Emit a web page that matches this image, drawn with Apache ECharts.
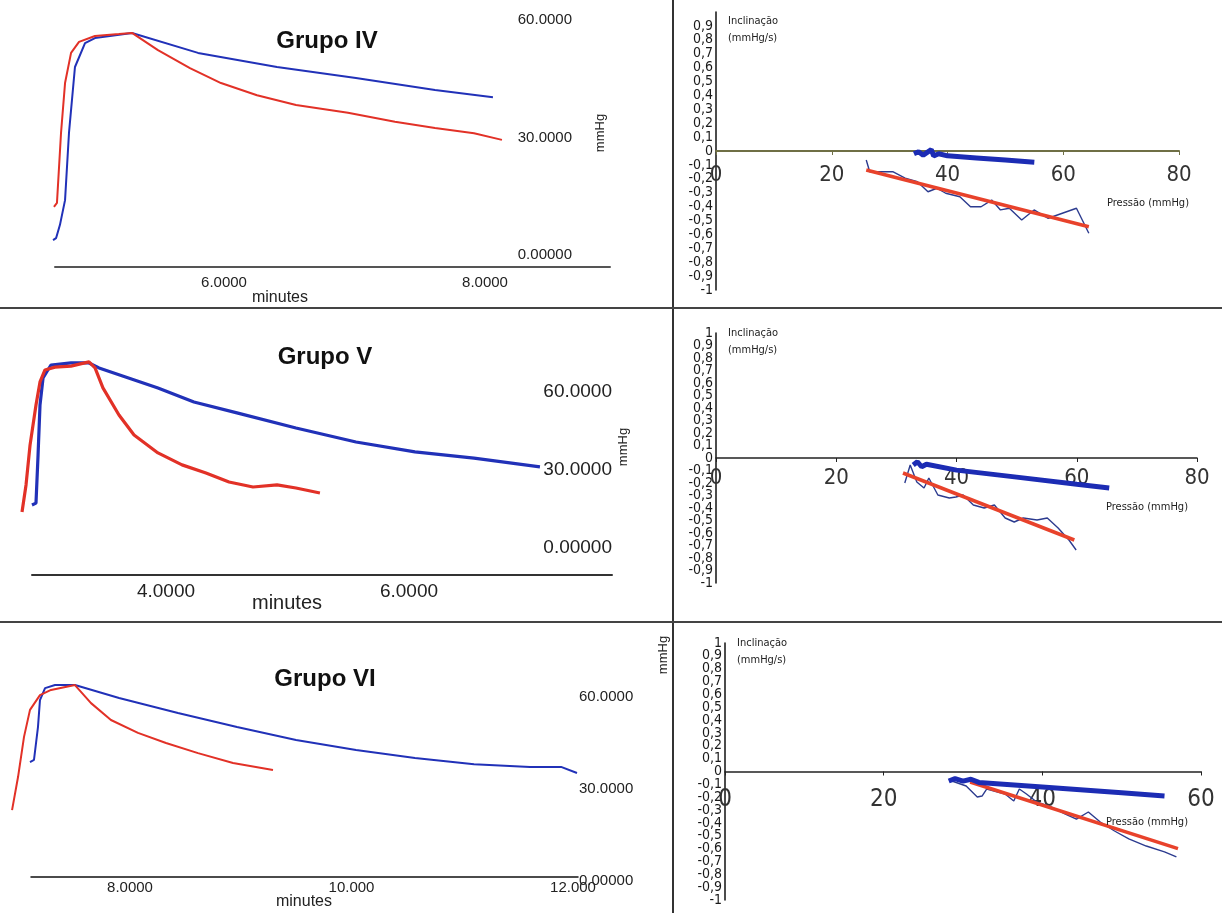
<!DOCTYPE html>
<html>
<head>
<meta charset="utf-8">
<title>Grupos IV, V e VI</title>
<script src="https://cdn.jsdelivr.net/npm/echarts@6/dist/echarts.min.js"></script>
<style>
  html, body { margin: 0; padding: 0; background: #fff; }
  #chart { width: 1222px; height: 913px; }
</style>
</head>
<body>
<div id="chart"></div>
<script>
// curvas de pressao: [minutos, mmHg]
var grupo4Azul = [[4.690,3.8],[4.713,4.3],[4.743,7.7],[4.782,14.0],[4.812,31.1],[4.858,48.0],[4.935,54.1],[5.011,55.4],[5.126,55.9],[5.295,56.7],[5.801,51.6],[6.406,48.0],[7.011,45.2],[7.617,42.1],[8.061,40.3]];
var grupo4Verm = [[4.697,12.3],[4.720,13.3],[4.751,31.1],[4.782,43.9],[4.828,51.6],[4.889,54.4],[5.011,55.9],[5.195,56.4],[5.295,56.7],[5.494,52.3],[5.739,47.7],[5.977,43.9],[6.253,40.8],[6.552,38.3],[6.950,36.3],[7.310,34.0],[7.617,32.4],[7.916,31.1],[8.130,29.4]];
var grupo5Azul = [[2.897,16.3],[2.930,17.0],[2.947,35.5],[2.963,54.7],[2.988,65.1],[3.053,70.1],[3.218,70.9],[3.366,70.9],[3.449,69.0],[3.934,61.3],[4.230,55.9],[4.584,51.7],[5.070,45.9],[5.564,40.5],[6.049,36.7],[6.535,34.3],[7.078,30.9]];
var grupo5Verm = [[2.815,13.6],[2.848,24.0],[2.881,39.3],[2.930,54.7],[2.963,63.6],[3.004,68.2],[3.086,69.3],[3.218,69.7],[3.366,71.3],[3.416,69.0],[3.481,61.3],[3.613,50.9],[3.737,43.2],[3.934,36.3],[4.132,31.7],[4.329,28.6],[4.519,25.1],[4.716,23.2],[4.914,24.0],[5.070,22.8],[5.267,20.9]];
var grupo6Azul = [[7.097,38.8],[7.133,39.5],[7.169,50.2],[7.187,59.0],[7.233,62.9],[7.323,63.9],[7.503,63.9],[7.901,59.7],[8.433,54.8],[8.966,50.2],[9.499,46.0],[10.041,42.7],[10.573,40.1],[11.106,38.1],[11.612,37.2],[11.892,37.2],[12.036,35.2]];
var grupo6Verm = [[6.935,23.1],[6.989,33.9],[7.043,47.0],[7.097,55.8],[7.187,60.6],[7.287,62.3],[7.503,63.9],[7.648,58.0],[7.828,52.5],[8.072,48.3],[8.325,45.0],[8.614,41.7],[8.930,38.5],[9.291,36.2]];

// inclinacao x pressao: [mmHg, mmHg/s]
var incl4Bruta = [[25.96,-0.065],[26.56,-0.149],[28.70,-0.149],[30.54,-0.149],[32.68,-0.196],[34.80,-0.221],[36.63,-0.293],[38.17,-0.268],[39.69,-0.304],[42.14,-0.329],[43.97,-0.401],[45.80,-0.401],[47.63,-0.353],[49.15,-0.424],[50.69,-0.412],[52.82,-0.496],[54.96,-0.424],[57.41,-0.484],[59.84,-0.448],[62.28,-0.412],[64.42,-0.592]];
var incl4Ajuste = [[25.96,-0.137],[64.42,-0.545]];
var incl4Azul = [[34.2,-0.02],[35.0,-0.005],[35.8,-0.03],[36.5,-0.01],[37.2,0.01],[37.6,-0.035],[38.5,-0.02],[40,-0.035],[45,-0.05],[50,-0.065],[55.0,-0.081]];
var incl5Bruta = [[31.4,-0.20],[32.3,-0.056],[33.4,-0.192],[34.6,-0.24],[35.4,-0.16],[36.9,-0.296],[38.8,-0.32],[39.9,-0.312],[41.1,-0.296],[42.8,-0.376],[44.6,-0.40],[46.3,-0.376],[48.1,-0.48],[49.6,-0.512],[51.1,-0.48],[53.4,-0.496],[55.1,-0.48],[56.9,-0.56],[58.7,-0.656],[59.9,-0.736]];
var incl5Ajuste = [[31.1,-0.12],[59.6,-0.656]];
var incl5Azul = [[32.8,-0.056],[33.5,-0.03],[34.2,-0.07],[35,-0.05],[40,-0.097],[50,-0.153],[60,-0.21],[65.4,-0.24]];
var incl6Bruta = [[28.6,-0.074],[30.4,-0.113],[31.8,-0.198],[32.4,-0.191],[33.0,-0.136],[35.3,-0.175],[36.4,-0.230],[37.1,-0.136],[38.0,-0.175],[39.3,-0.237],[41.1,-0.276],[42.9,-0.331],[44.3,-0.370],[45.8,-0.315],[47.3,-0.393],[49.1,-0.463],[50.9,-0.525],[53.1,-0.580],[55.4,-0.626],[56.9,-0.665]];
var incl6Ajuste = [[30.9,-0.082],[57.1,-0.60]];
var incl6Azul = [[28.2,-0.074],[29,-0.055],[30,-0.075],[31,-0.06],[32,-0.085],[40,-0.12],[50,-0.165],[55.4,-0.19]];

// rotulos dos eixos
var minutos4 = [6, 8];
var minutos5 = [4, 6];
var minutos6 = [8, 10, 12];
var pressaoTicks = [0, 30, 60];
var pressaoX80 = [0, 20, 40, 60, 80];
var pressaoX60 = [0, 20, 40, 60];
var inclTicks = [-1,-0.9,-0.8,-0.7,-0.6,-0.5,-0.4,-0.3,-0.2,-0.1,0,0.1,0.2,0.3,0.4,0.5,0.6,0.7,0.8,0.9,1];
var inclTicksSem1 = inclTicks.slice(0, 20);

var FONT = "'Liberation Sans', Arial, sans-serif";
var NARROW = "'Liberation Sans Narrow', 'DejaVu Sans Condensed', 'Liberation Sans', sans-serif";
var AZUL = '#2131b8', VERM = '#e23127';

var myChart = echarts.init(document.getElementById('chart'), null, { renderer: 'canvas' });

function fmtIncl(v) {
    if (Math.abs(v) < 1e-9) return '0';
    if (Math.abs(Math.abs(v) - 1) < 1e-9) return v > 0 ? '1' : '-1';
    return v.toFixed(1).replace('.', ',');
}
// decimos pares / impares (dois eixos sobrepostos para que nenhum rotulo seja escondido)
function pares(t) { return t.filter(function (v) { return Math.round(v * 10) % 2 === 0; }); }
function impares(t) { return t.filter(function (v) { return Math.round(v * 10) % 2 !== 0; }); }

// paineis da esquerda (pressao x tempo)
// eixo: [axLeft, axRight] em px com [axMin, axMax]; dados comecam em dataLeft/dataMin (mesma escala)
var esquerda = [
    { axLeft: 55, axRight: 610, axMin: 4.705, axMax: 8.958, dataLeft: 52, dataMin: 4.682,
      top: 20, height: 235, ymax: 60, ticks: minutos4, offset: 12,
      lineColor: '#555', lineW: 2, xfs: 15, xm: 8, yfs: 15, yinside: true, ym: 38, lw: 2, azul: grupo4Azul, verm: grupo4Verm },
    { axLeft: 32, axRight: 612, axMin: 2.897, axMax: 7.671, dataLeft: 21, dataMin: 2.8066,
      top: 360.1, height: 187.2, ymax: 72, ticks: minutos5, offset: 27.7,
      lineColor: '#333', lineW: 2, xfs: 19, xm: 7, yfs: 19, yinside: true, ym: 0, lw: 3.2, azul: grupo5Azul, verm: grupo5Verm },
    { axLeft: 31, axRight: 578, axMin: 7.106, axMax: 12.045, dataLeft: 11, dataMin: 6.9255,
      top: 678.6, height: 202.4, ymax: 66, ticks: minutos6, offset: -4,
      lineColor: '#111', lineW: 1.5, xfs: 15, xm: 3, yfs: 15, yinside: false, ym: 1, lw: 2, azul: grupo6Azul, verm: grupo6Verm }
];
// paineis da direita (inclinacao x pressao)
var direita = [
    { left: 716, top: 12, width: 463, height: 278, xmax: 80, xt: pressaoX80, yt: inclTicksSem1, xColor: '#6f6f45', xW: 2, xfs: 22, xm: 13,
      bruta: incl4Bruta, ajuste: incl4Ajuste, azul: incl4Azul },
    { left: 716, top: 333, width: 481, height: 250, xmax: 80, xt: pressaoX80, yt: inclTicks, xColor: '#222', xW: 1.5, xfs: 22, xm: 9,
      bruta: incl5Bruta, ajuste: incl5Ajuste, azul: incl5Azul },
    { left: 725, top: 643, width: 476, height: 257, xmax: 60, xt: pressaoX60, yt: inclTicks, xColor: '#222', xW: 1.5, xfs: 24, xm: 16,
      bruta: incl6Bruta, ajuste: incl6Ajuste, azul: incl6Azul }
];

var grid = [], xAxis = [], yAxis = [], series = [];
var hidden = { axisLine: { show: false }, axisTick: { show: false }, splitLine: { show: false }, axisLabel: { show: false } };

esquerda.forEach(function (p) {
    // grade do eixo (so a linha de base e os rotulos de minutos)
    var gi = grid.length;
    grid.push({ left: p.axLeft, top: p.top, width: p.axRight - p.axLeft, height: p.height, containLabel: false, outerBoundsMode: 'none' });
    xAxis.push({
        type: 'value', gridIndex: gi, min: p.axMin, max: p.axMax, offset: p.offset,
        axisLine: { show: true, onZero: false, lineStyle: { color: p.lineColor, width: p.lineW } },
        axisTick: { show: false },
        splitLine: { show: false },
        axisLabel: { customValues: p.ticks, margin: p.xm, color: '#222', fontSize: p.xfs, fontFamily: FONT,
            formatter: function (v) { return Number(v).toPrecision(5); } }
    });
    yAxis.push(Object.assign({ type: 'value', gridIndex: gi, min: 0, max: p.ymax }, hidden));

    // grade dos dados (comeca um pouco antes da linha de base)
    var gd = grid.length;
    var xi = xAxis.length, yi = yAxis.length;
    grid.push({ left: p.dataLeft, top: p.top, width: p.axRight - p.dataLeft, height: p.height, containLabel: false, outerBoundsMode: 'none' });
    xAxis.push(Object.assign({ type: 'value', gridIndex: gd, min: p.dataMin, max: p.axMax }, hidden));
    yAxis.push({
        type: 'value', gridIndex: gd, position: 'right', min: 0, max: p.ymax,
        axisLine: { show: false }, axisTick: { show: false }, splitLine: { show: false },
        axisLabel: { customValues: pressaoTicks, inside: p.yinside, margin: p.ym, color: '#222', fontSize: p.yfs, fontFamily: FONT,
            showMinLabel: true, showMaxLabel: true,
            formatter: function (v) { return Number(v).toPrecision(6); } }
    });
    series.push({ type: 'line', xAxisIndex: xi, yAxisIndex: yi, data: p.azul, showSymbol: false,
        lineStyle: { color: AZUL, width: p.lw }, z: 2 });
    series.push({ type: 'line', xAxisIndex: xi, yAxisIndex: yi, data: p.verm, showSymbol: false,
        lineStyle: { color: VERM, width: p.lw }, z: 3 });
});

direita.forEach(function (p) {
    var gi = grid.length, xi = xAxis.length, yi = yAxis.length;
    grid.push({ left: p.left, top: p.top, width: p.width, height: p.height, containLabel: false, outerBoundsMode: 'none' });
    xAxis.push({
        type: 'value', gridIndex: gi, min: 0, max: p.xmax, offset: -p.height / 2,
        axisLine: { show: true, onZero: false, lineStyle: { color: p.xColor, width: p.xW } },
        axisTick: { show: true, customValues: p.xt, length: 4, lineStyle: { color: p.xColor } },
        splitLine: { show: false },
        axisLabel: { customValues: p.xt, margin: p.xm, color: '#333', fontSize: p.xfs, fontFamily: NARROW,
            showMinLabel: true, showMaxLabel: true }
    });
    [pares(p.yt), impares(p.yt)].forEach(function (vals, k) {
        yAxis.push({
            type: 'value', gridIndex: gi, position: 'left', offset: 0, min: -1, max: 1,
            axisLine: { show: k === 0, onZero: false, lineStyle: { color: '#111', width: 1.5 } },
            axisTick: { show: false }, splitLine: { show: false },
            axisLabel: { customValues: vals, margin: 3, color: '#1a1a1a', fontSize: 14, fontFamily: NARROW,
                showMinLabel: true, showMaxLabel: true, formatter: fmtIncl }
        });
    });
    series.push({ type: 'line', xAxisIndex: xi, yAxisIndex: yi, data: p.bruta, showSymbol: false,
        lineStyle: { color: '#2c3b8f', width: 1.4 }, z: 2 });
    series.push({ type: 'line', xAxisIndex: xi, yAxisIndex: yi, data: p.ajuste, showSymbol: false,
        lineStyle: { color: '#e8422b', width: 3.5 }, z: 3 });
    series.push({ type: 'line', xAxisIndex: xi, yAxisIndex: yi, data: p.azul, showSymbol: false,
        lineStyle: { color: '#1c2cb4', width: 5 }, z: 4 });
});

function texto(txt, x, y, font, opts) {
    opts = opts || {};
    return {
        type: 'text', x: x, y: y, rotation: opts.rot || 0, z: 10,
        style: { text: txt, font: font, fill: opts.fill || '#222', align: opts.align || 'left', verticalAlign: 'middle' }
    };
}

var graphic = [
    // divisorias
    { type: 'line', shape: { x1: 673, y1: 0, x2: 673, y2: 913 }, style: { stroke: '#333', lineWidth: 2 } },
    { type: 'line', shape: { x1: 0, y1: 308, x2: 1222, y2: 308 }, style: { stroke: '#444', lineWidth: 2 } },
    { type: 'line', shape: { x1: 0, y1: 622, x2: 1222, y2: 622 }, style: { stroke: '#444', lineWidth: 2 } },
    texto('minutes', 280, 298, '16px ' + FONT, { align: 'center' }),
    texto('minutes', 287, 603, '20px ' + FONT, { align: 'center' }),
    texto('minutes', 304, 902, '16px ' + FONT, { align: 'center' }),
    texto('mmHg', 600, 133, '13px ' + FONT, { align: 'center', rot: Math.PI / 2 }),
    texto('mmHg', 623, 447, '13px ' + FONT, { align: 'center', rot: Math.PI / 2 }),
    texto('mmHg', 663, 655, '13px ' + FONT, { align: 'center', rot: Math.PI / 2 }),
    texto('Inclinação', 728, 21, '11px ' + NARROW),
    texto('(mmHg/s)', 728, 38, '11px ' + NARROW),
    texto('Inclinação', 728, 333, '11px ' + NARROW),
    texto('(mmHg/s)', 728, 350, '11px ' + NARROW),
    texto('Inclinação', 737, 643, '11px ' + NARROW),
    texto('(mmHg/s)', 737, 660, '11px ' + NARROW),
    texto('Pressão (mmHg)', 1107, 203, '11px ' + NARROW),
    texto('Pressão (mmHg)', 1106, 507, '11px ' + NARROW),
    texto('Pressão (mmHg)', 1106, 822, '11px ' + NARROW)
];

var tituloStyle = { fontSize: 24, fontWeight: 'bold', color: '#111', fontFamily: FONT };
var option = {
    backgroundColor: '#fff',
    animation: false,
    title: [
        { text: 'Grupo IV', left: 322, top: 24, textAlign: 'center', textStyle: tituloStyle },
        { text: 'Grupo V', left: 320, top: 340, textAlign: 'center', textStyle: tituloStyle },
        { text: 'Grupo VI', left: 320, top: 662, textAlign: 'center', textStyle: tituloStyle }
    ],
    grid: grid,
    xAxis: xAxis,
    yAxis: yAxis,
    series: series,
    graphic: graphic
};

myChart.setOption(option);
</script>
</body>
</html>
